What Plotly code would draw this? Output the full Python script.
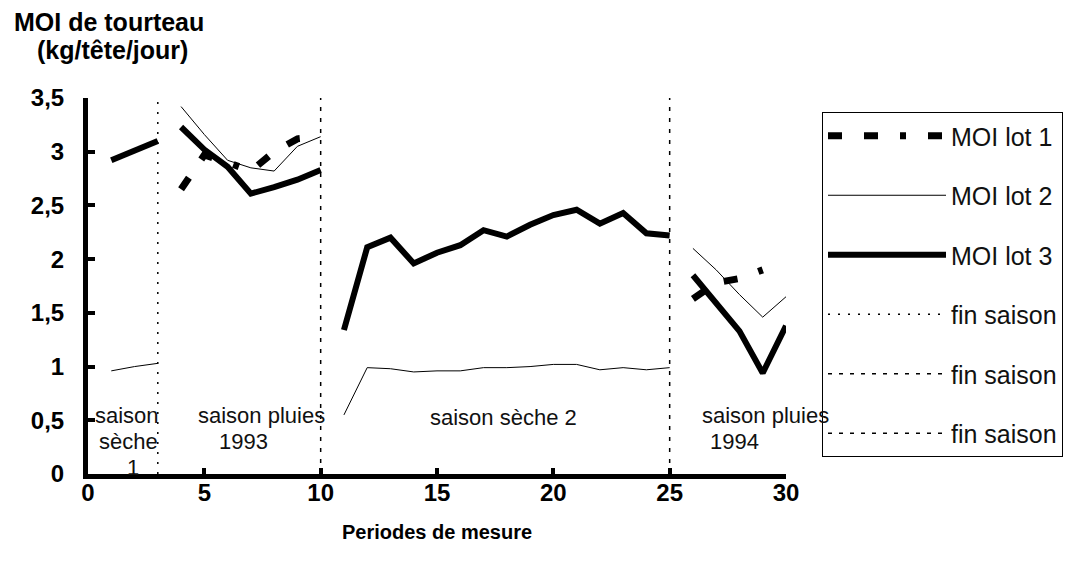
import plotly.graph_objects as go

periods = list(range(1, 31))

lot1 = [None, None, None,
        2.65, 2.97, 2.9, 2.82, 3.0, 3.12, 3.14,
        None, None, None, None, None, None, None, None, None, None, None, None, None, None, None,
        1.63, 1.78, 1.82, 1.9, None]

lot2 = [0.96, 1.0, 1.03,
        3.42, 3.16, 2.92, 2.85, 2.82, 3.05, 3.14,
        0.55, 0.99, 0.98, 0.95, 0.96, 0.96, 0.99, 0.99, 1.0, 1.02, 1.02, 0.97, 0.99, 0.97, 0.99,
        2.1, 1.9, 1.67, 1.46, 1.65]

lot3 = [2.92, 3.01, 3.1,
        3.23, 3.02, 2.86, 2.61, 2.67, 2.74, 2.83,
        1.34, 2.11, 2.2, 1.96, 2.06, 2.13, 2.27, 2.21, 2.32, 2.41, 2.46, 2.33, 2.43, 2.24, 2.22,
        1.85, 1.6, 1.33, 0.94, 1.38]

season_ends = [3, 10, 25]
season_dash = ["2px,8px", "4px,7px", "4px,7px"]
y_top = 3.5

# season label lines: (text, x, y)
label_text = ["saison", "sèche", "1", "saison pluies", "1993", "saison sèche 2", "saison pluies", "1994"]
label_x = [1.68, 1.72, 1.94, 7.46, 6.7, 17.85, 29.1, 27.8]
label_y = [0.545, 0.30, 0.065, 0.545, 0.30, 0.53, 0.545, 0.30]

x_ticks = [0, 5, 10, 15, 20, 25, 30]
y_ticks = [0, 0.5, 1, 1.5, 2, 2.5, 3, 3.5]


def split_segments(values):
    xs, ys = [], []
    start = 0
    for end in season_ends + [len(periods)]:
        if xs:
            xs.append(None)
            ys.append(None)
        xs += periods[start:end]
        ys += values[start:end]
        start = end
    return xs, ys


narrow = "Liberation Sans Narrow, Arial Narrow, Liberation Sans, Arial"
plain = "Liberation Sans, Arial, sans-serif"

fig = go.Figure()

x1, y1 = split_segments(lot1)
x2, y2 = split_segments(lot2)
x3, y3 = split_segments(lot3)

fig.add_trace(go.Scatter(x=x1, y=y1, mode="lines", name="MOI lot 1",
                         line=dict(color="black", width=7, dash="14px,22px,14px,22px,6px,22px"),
                         legendgroup="a"))
fig.add_trace(go.Scatter(x=x2, y=y2, mode="lines", name="MOI lot 2",
                         line=dict(color="black", width=1), legendgroup="b"))
fig.add_trace(go.Scatter(x=x3, y=y3, mode="lines", name="MOI lot 3",
                         line=dict(color="black", width=6), legendgroup="c"))
for i, (xe, d) in enumerate(zip(season_ends, season_dash)):
    fig.add_trace(go.Scatter(x=[xe, xe], y=[0, y_top], mode="lines", name="fin saison",
                             line=dict(color="black", width=1.5, dash=d),
                             legendgroup="f%d" % i))

for t, lx, ly in zip(label_text, label_x, label_y):
    fig.add_annotation(x=lx, y=ly, xref="x", yref="y", text=t, showarrow=False,
                       yanchor="middle", xanchor="center",
                       font=dict(family=plain, size=22, color="#111"))

fig.add_annotation(x=(12 - 88) / 698, y=1 + (98 - 6) / 376, xref="paper", yref="paper",
                   text="MOI de tourteau", showarrow=False, xanchor="left", yanchor="top",
                   font=dict(family=plain, size=25, color="black", weight="bold"))
fig.add_annotation(x=(35 - 88) / 698, y=1 + (98 - 34) / 376, xref="paper", yref="paper",
                   text="(kg/tête/jour)", showarrow=False, xanchor="left", yanchor="top",
                   font=dict(family=plain, size=25, color="black", weight="bold"))

fig.update_layout(
    width=1077, height=567,
    margin=dict(l=88, r=291, t=98, b=93),
    paper_bgcolor="white", plot_bgcolor="white",
    separators=", ",
    showlegend=True,
    legend=dict(x=(822 - 88) / 698, y=(474 - 112) / 376, xanchor="left", yanchor="top",
                bordercolor="black", borderwidth=1, bgcolor="white",
                font=dict(family=plain, size=25, color="#111"),
                tracegroupgap=24, traceorder="grouped", itemwidth=118),
    xaxis=dict(range=[0, 30], tickvals=x_ticks, showgrid=False, zeroline=False,
               showline=True, linecolor="black", linewidth=5,
               ticks="inside", ticklen=6, tickwidth=4, tickcolor="black",
               tickfont=dict(family=narrow, size=24, color="black", weight="bold"),
               ticklabelstandoff=-7,
               title=dict(text="Periodes de mesure", standoff=22,
                          font=dict(family=narrow, size=20, color="black", weight="bold"))),
    yaxis=dict(range=[0, 3.5], tickvals=y_ticks, showgrid=False, zeroline=False,
               showline=True, linecolor="black", linewidth=5,
               ticks="inside", ticklen=7, tickwidth=4, tickcolor="black",
               tickfont=dict(family=narrow, size=24, color="black", weight="bold"),
               ticklabelstandoff=14),
)

fig.write_html("out.html")
